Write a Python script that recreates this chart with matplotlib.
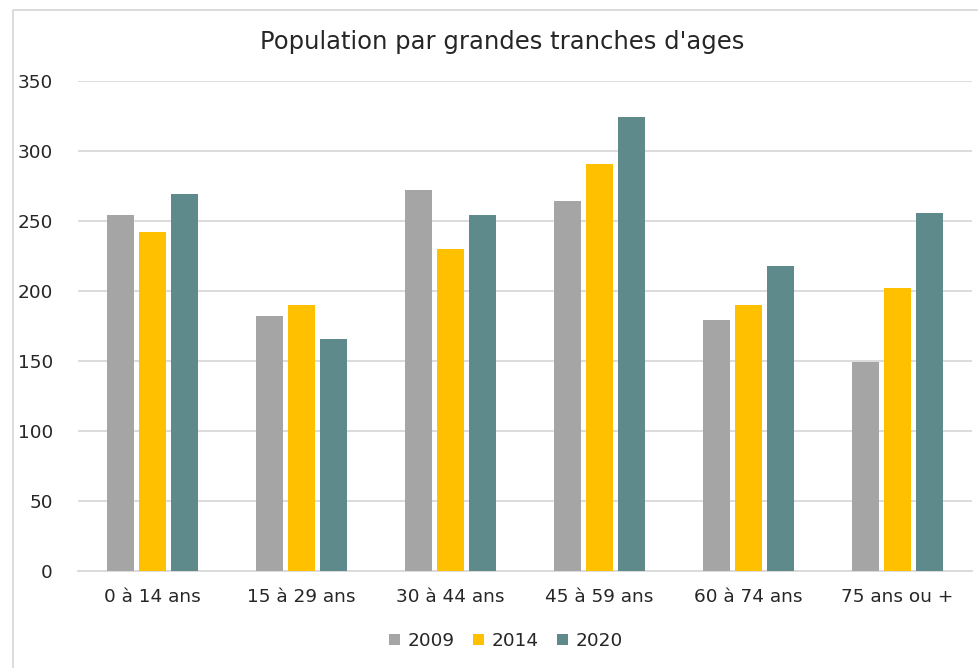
import matplotlib
matplotlib.use("Agg")
import matplotlib.pyplot as plt
import numpy as np
from matplotlib.patches import Rectangle

categories = ["0 à 14 ans", "15 à 29 ans", "30 à 44 ans", "45 à 59 ans", "60 à 74 ans", "75 ans ou +"]
years = ["2009", "2014", "2020"]
v2009 = [254, 182, 272, 264, 179, 149]
v2014 = [242, 190, 230, 291, 190, 202]
v2020 = [269, 166, 254, 324, 218, 256]
colors = ["#A5A5A5", "#FFC000", "#5F8A8B"]
yticks = [0, 50, 100, 150, 200, 250, 300, 350]

plt.rcParams['font.family'] = ['DejaVu Sans']

fig = plt.figure(figsize=(9.79, 6.68), dpi=100)
W, H = 979, 668
# chart border (cropped on right/bottom)
fig.patches.append(Rectangle((13 / W, -0.1), 1.2, (H - 10) / H + 0.1, transform=fig.transFigure,
                             fill=False, edgecolor="#D9D9D9", linewidth=1.3))

left, right = 78, 972
top, bottom = 81, 571
ax = fig.add_axes([left / W, 1 - bottom / H, (right - left) / W, (bottom - top) / H])

x = np.arange(len(categories))
bw = 0.175
step = 0.215
for i, (vals, c, lab) in enumerate(zip([v2009, v2014, v2020], colors, years)):
    ax.bar(x + (i - 1) * step, vals, width=bw, color=c, label=lab, zorder=3)

ax.set_xlim(-0.5, len(categories) - 0.5)
ax.set_ylim(0, 350)
ax.set_yticks(yticks)
ax.set_yticklabels([str(t) for t in yticks], fontsize=13.3, color="#262626")
ax.set_xticks(x)
ax.set_xticklabels(categories, fontsize=13.3, color="#262626")
ax.tick_params(axis="both", length=0)
ax.tick_params(axis="y", pad=18)
ax.tick_params(axis="x", pad=12)
ax.grid(axis="y", color="#D9D9D9", linewidth=1.3, zorder=0)
for s in ["top", "right", "left"]:
    ax.spines[s].set_visible(False)
ax.spines["bottom"].set_color("#D9D9D9")
ax.spines["bottom"].set_linewidth(1.3)

fig.text(502 / W, 1 - 42 / H, "Population par grandes tranches d'ages", ha="center", va="center",
         fontsize=17.5, color="#262626")

leg = fig.legend(loc="center", bbox_to_anchor=(506 / W, 1 - 641 / H), ncol=3, frameon=False,
                 fontsize=13.3, handlelength=0.6, handleheight=0.6, handletextpad=0.4, columnspacing=1.0)
for t in leg.get_texts():
    t.set_color("#262626")

fig.savefig("out.png", dpi=100)
